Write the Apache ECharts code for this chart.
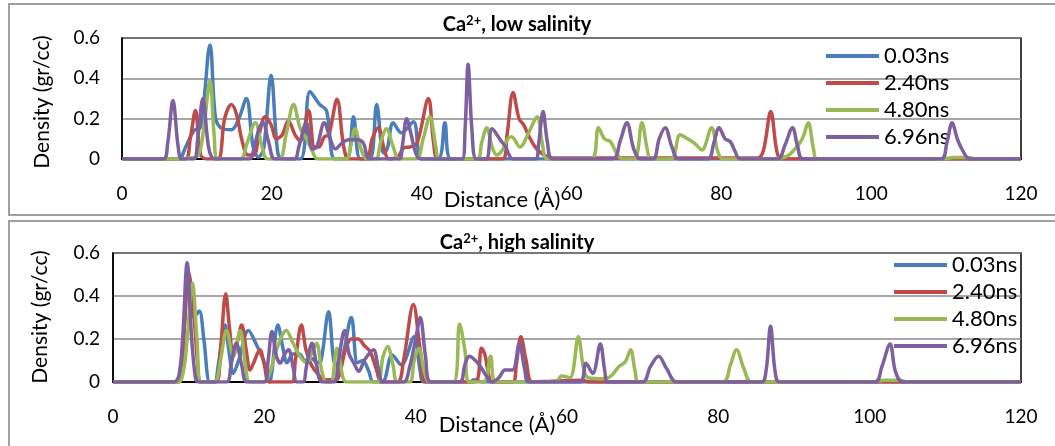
<!DOCTYPE html>
<html>
<head>
<meta charset="utf-8">
<script src="https://cdn.jsdelivr.net/npm/echarts@6/dist/echarts.min.js"></script>
<style>
  html, body { margin: 0; padding: 0; background: #fff; }
  #chart { width: 1055px; height: 446px; }
</style>
</head>
<body>
<div id="chart"></div>
<script>
// Ca2+ density profiles along the pore, four simulation times, two salinities
const seriesNames = ['0.03ns', '2.40ns', '4.80ns', '6.96ns'];
const xTicks = [0, 20, 40, 60, 80, 100, 120];
const yTickLabels = ['0', '0.2', '0.4', '0.6'];
const panelTitles = ['low salinity', 'high salinity'];

// low salinity: [distance (Å), density (gr/cc)]
const lowBlue = [[0,0],[7.5,0],[8.5,0.06],[9.6,0.14],[10.5,0.16],[11.75,0.565],[12.5,0.2],[13.4,0.15],[14.6,0.145],[15.6,0.2],[16.6,0.30],[17.5,0.06],[18.2,0.01],[18.9,0.05],[19.9,0.415],[20.8,0.03],[21.5,0],[23.8,0],[25.1,0.335],[26.4,0.27],[27.3,0.24],[28.4,0],[30.0,0],[30.9,0.21],[31.8,0],[33.1,0],[34.0,0.27],[34.9,0.03],[35.4,0.05],[36.2,0.18],[37.3,0.13],[38.9,0.185],[40.0,0],[42.2,0],[43.1,0.18],[43.9,0],[56.5,0],[120,0]];
const lowRed = [[0,0],[8.4,0],[9.1,0.1],[9.8,0.24],[10.5,0.02],[11.3,0],[12.8,0],[13.7,0.2],[14.6,0.27],[15.3,0.22],[16.0,0.095],[16.8,0.02],[17.6,0.02],[18.3,0.12],[19.1,0.21],[19.9,0.17],[20.6,0.1],[21.4,0.12],[22.2,0.19],[23.1,0.12],[23.8,0.09],[24.9,0.24],[25.7,0.06],[26.3,0.06],[27.0,0.11],[27.6,0.12],[28.7,0.296],[29.6,0.06],[30.3,0],[32.6,0],[33.4,0.1],[34.2,0.155],[35.0,0.05],[35.6,0],[36.8,0.01],[37.6,0.055],[38.5,0.06],[39.4,0.08],[40.9,0.30],[41.6,0.08],[42.3,0],[50.8,0],[51.4,0.12],[52.2,0.33],[53.0,0.2],[53.6,0.17],[54.5,0.1],[55.6,0.04],[57.5,0.005],[84.8,0.005],[85.6,0.04],[86.6,0.235],[87.4,0.04],[88.0,0],[120,0]];
const lowGreen = [[0,0],[7.5,0],[9.0,0.005],[10.2,0.02],[10.9,0.15],[11.75,0.39],[12.3,0.12],[12.8,0],[15.8,0],[16.7,0.08],[17.8,0.18],[18.7,0.06],[19.4,0],[21.0,0],[21.9,0.12],[22.9,0.27],[23.8,0.15],[24.7,0.095],[25.4,0.04],[26.1,0],[29.9,0],[30.5,0.06],[31.1,0.15],[31.9,0.05],[32.7,0],[33.9,0],[34.5,0.08],[35.3,0.15],[36.2,0.06],[37.0,0],[39.3,0],[40.2,0.1],[41.1,0.21],[41.9,0.06],[42.4,0],[47.4,0],[48.0,0.08],[48.7,0.155],[49.4,0.06],[50.0,0.02],[50.7,0.04],[51.5,0.1],[52.0,0.11],[53.1,0.06],[54.4,0.14],[55.4,0.21],[56.1,0.08],[56.8,0],[62.6,0],[63.6,0.155],[64.4,0.1],[65.2,0.086],[66.0,0.03],[66.8,0],[68.4,0],[69.4,0.18],[70.1,0.05],[70.6,0],[73.3,0],[74.5,0.12],[75.5,0.1],[76.5,0.075],[77.4,0.045],[78.7,0.155],[79.5,0.04],[80.2,0],[86.0,0],[88.5,0.01],[89.6,0.04],[90.8,0.1],[91.6,0.18],[92.3,0.05],[92.8,0],[109.5,0],[111,0.008],[113,0.008],[114,0],[120,0]];
const lowPurple = [[0,0],[5.5,0],[6.1,0.08],[6.8,0.29],[7.5,0.06],[8.0,0],[9.6,0],[10.1,0.1],[10.8,0.30],[11.6,0.05],[12.4,0],[17.0,0],[17.6,0.05],[18.2,0.14],[18.8,0.18],[19.6,0.08],[20.4,0],[23.0,0],[23.6,0.06],[24.6,0.18],[25.4,0.05],[26.0,0.06],[27.0,0.18],[27.8,0.1],[28.5,0.05],[29.4,0.08],[30.2,0.095],[31.4,0.095],[32.2,0.08],[33.1,0],[37.0,0],[37.4,0.06],[38.0,0.2],[38.6,0.12],[39.2,0.03],[39.8,0],[45.4,0],[45.8,0.15],[46.2,0.47],[46.7,0.15],[47.3,0],[48.6,0],[49.4,0.15],[50.5,0.095],[51.2,0.06],[52.2,0],[55.2,0],[55.6,0.07],[56.2,0.235],[56.8,0.08],[57.5,0],[65.5,0],[66.5,0.09],[67.4,0.18],[68.3,0.05],[69.2,0],[70.9,0],[71.7,0.1],[72.5,0.155],[73.4,0.06],[74.3,0],[78.2,0],[79.0,0.08],[79.7,0.155],[80.5,0.1],[81.2,0.086],[81.8,0.04],[82.5,0],[87.5,0],[88.5,0.07],[89.5,0.155],[90.2,0.06],[90.9,0],[109.3,0],[110.1,0.08],[110.8,0.18],[111.5,0.1],[112.1,0.05],[113.2,0],[120,0]];

// high salinity: [distance (Å), density (gr/cc)]
const highBlue = [[0,0],[8.5,0],[9.2,0.15],[10.0,0.5],[10.7,0.3],[11.4,0.33],[12.0,0.2],[12.8,0],[13.4,0],[14.0,0.1],[14.8,0.265],[15.3,0.15],[15.9,0.04],[16.6,0.1],[17.9,0.24],[19.0,0.17],[19.9,0.1],[20.7,0],[21.0,0.05],[21.8,0.265],[22.5,0.15],[23.0,0.09],[23.8,0.13],[24.6,0.13],[25.4,0.1],[26.2,0.11],[27.0,0.09],[27.5,0.1],[28.5,0.327],[29.4,0.08],[30.2,0.1],[31.5,0.3],[32.3,0.09],[33.0,0.1],[33.8,0.05],[34.4,0],[35.6,0],[36.9,0.126],[38.1,0.08],[39.8,0.21],[40.6,0.05],[41.1,0],[47,0],[47.8,0.01],[48.8,0],[55,0],[120,0]];
const highRed = [[0,0],[8.7,0],[9.4,0.25],[10.0,0.51],[10.6,0.35],[11.2,0.08],[11.6,0],[13.6,0],[14.2,0.15],[14.9,0.41],[15.4,0.25],[15.9,0.12],[16.4,0.18],[17.0,0.265],[17.6,0.15],[18.1,0.056],[18.6,0.09],[19.4,0.15],[20.0,0.08],[20.7,0],[23.6,0],[24.1,0.1],[24.9,0.265],[25.5,0.15],[26.2,0.08],[27.0,0.04],[28.0,0.01],[29.5,0.01],[30.1,0.06],[30.8,0.16],[31.5,0.2],[32.4,0.2],[33.2,0.17],[34.0,0.14],[34.8,0.06],[35.5,0],[37.6,0],[38.4,0.1],[39.7,0.36],[40.6,0.15],[41.4,0],[47.8,0],[48.7,0.157],[49.2,0.12],[49.6,0.04],[50.1,0],[52.8,0],[53.3,0.08],[53.9,0.21],[54.6,0.1],[55.4,0],[58,0.004],[62,0.008],[63,0],[120,0]];
const highGreen = [[0,0],[8.6,0],[9.3,0.05],[9.8,0.2],[10.5,0.46],[11.1,0.2],[11.7,0],[13.4,0],[14.2,0.1],[15.0,0.24],[15.9,0.12],[16.8,0.24],[17.5,0.08],[18.1,0],[19.9,0],[20.7,0.04],[21.6,0.15],[22.9,0.24],[23.8,0.18],[24.7,0.12],[25.6,0.09],[26.2,0.13],[26.9,0.18],[27.6,0.05],[28.2,0],[28.8,0],[29.6,0.157],[30.4,0.02],[30.9,0],[34.8,0],[35.7,0.12],[36.3,0.165],[37.0,0.08],[37.6,0],[39.2,0],[39.8,0.1],[40.4,0.157],[41.2,0.04],[41.8,0],[45.0,0],[45.8,0.27],[46.5,0.15],[47.1,0],[49.0,0],[49.9,0.12],[50.6,0],[58.5,0],[59.3,0.028],[60.4,0.02],[61.5,0.21],[62.2,0.06],[62.8,0.02],[65.0,0.015],[65.9,0.03],[66.8,0.07],[67.7,0.094],[68.4,0.15],[69.0,0.05],[69.5,0],[80.6,0],[81.6,0.08],[82.4,0.15],[83.4,0.06],[84.4,0],[100,0],[102,0.008],[104,0.008],[105,0],[120,0]];
const highPurple = [[0,0],[8.0,0],[8.7,0.03],[9.2,0.2],[9.8,0.555],[10.4,0.2],[10.9,0.02],[11.3,0],[15.0,0],[15.6,0.08],[16.3,0.18],[17.0,0.08],[17.7,0],[20.0,0],[20.5,0.1],[21.0,0.235],[21.6,0.12],[22.1,0.088],[22.7,0.13],[23.2,0.15],[23.8,0.07],[24.3,0],[25.1,0],[25.6,0.08],[26.3,0.18],[26.9,0.08],[27.6,0],[29.2,0],[29.8,0.1],[30.6,0.24],[31.2,0.13],[31.8,0.09],[32.5,0.05],[33.2,0.1],[34.4,0.15],[35.1,0.06],[35.7,0],[38.4,0],[39.2,0.07],[40.0,0.2],[40.6,0.3],[41.3,0.12],[42.0,0],[45.8,0],[46.5,0.08],[47.1,0.12],[48.4,0.08],[49.3,0.03],[50.0,0],[51.0,0.02],[51.8,0.056],[52.8,0.056],[53.7,0.18],[54.4,0.06],[55.0,0],[61.7,0],[62.5,0.087],[63.4,0.04],[64.4,0.177],[65.0,0.05],[65.4,0],[70.0,0],[71.0,0.07],[72.1,0.12],[73.2,0.06],[74.5,0],[85.7,0],[86.3,0.05],[86.9,0.26],[87.5,0.05],[88.1,0],[100.7,0],[101.6,0.07],[102.7,0.177],[103.4,0.05],[104.4,0],[120,0]];

const colors = ['#4A7EBB', '#BE4B48', '#98B954', '#7D60A0'];
const FONT = 'Lato, "Liberation Sans", sans-serif';
const panels = [
  { grid: { left: 122, top: 38, width: 899, height: 121 }, data: [lowBlue, lowRed, lowGreen, lowPurple],
    box: [9, 4, 1060, 211], titleAt: [517, 25], xNameAt: [502, 200], yNameAt: [42, 102], yLabelMargin: 22,
    legend: { left: 821, top: 40 } },
  { grid: { left: 113, top: 253, width: 908, height: 129 }, data: [highBlue, highRed, highGreen, highPurple],
    box: [9, 221, 1060, 240], titleAt: [517, 243], xNameAt: [497, 425], yNameAt: [40, 317], yLabelMargin: 13,
    legend: { left: 889, top: 249 } }
];

const chart = echarts.init(document.getElementById('chart'), null, { renderer: 'canvas' });

const option = {
  animation: false,
  backgroundColor: '#fff',
  textStyle: { fontFamily: FONT },
  grid: panels.map(p => Object.assign({ show: true, borderColor: '#000', borderWidth: 1.5, containLabel: false }, p.grid)),
  xAxis: panels.map((p, i) => ({
    type: 'value', gridIndex: i, min: xTicks[0], max: xTicks[xTicks.length - 1], interval: xTicks[1] - xTicks[0],
    axisLine: { onZero: true, lineStyle: { color: '#000', width: 2 } },
    axisTick: { show: false },
    splitLine: { show: false },
    axisLabel: { margin: 25, color: '#000', fontSize: 19, fontFamily: FONT }
  })),
  yAxis: panels.map((p, i) => ({
    type: 'value', gridIndex: i, min: 0, max: 0.6, interval: 0.2,
    axisLine: { show: true, lineStyle: { color: '#000', width: 1.5 } },
    axisTick: { show: false },
    splitLine: { show: true, lineStyle: { color: '#8a8a8a', width: 1.5 } },
    axisLabel: { margin: p.yLabelMargin, color: '#000', fontSize: 19, fontFamily: FONT,
      formatter: v => yTickLabels[Math.round(v / 0.2)] }
  })),
  legend: panels.map(p => ({
    orient: 'vertical', left: p.legend.left, top: p.legend.top,
    data: seriesNames, icon: 'rect', itemWidth: 53, itemHeight: 4, itemGap: 5,
    selectedMode: false,
    textStyle: { color: '#000', fontSize: 22, fontFamily: FONT }
  })),
  series: [],
  graphic: []
};

panels.forEach((p, i) => {
  p.data.forEach((d, k) => {
    option.series.push({
      name: seriesNames[k], type: 'line', xAxisIndex: i, yAxisIndex: i,
      data: d, smooth: 0.35, symbol: 'none', showSymbol: false,
      color: colors[k], lineStyle: { color: colors[k], width: 3.5 },
      z: 2 + k
    });
  });
  // panel frame
  option.graphic.push({
    type: 'rect', silent: true, z: 0,
    shape: { x: p.box[0], y: p.box[1], width: p.box[2], height: p.box[3] },
    style: { fill: 'none', stroke: '#a0a0a0', lineWidth: 2 }
  });
  // panel title with superscript charge
  option.graphic.push({
    type: 'text', silent: true, x: p.titleAt[0], y: p.titleAt[1],
    style: {
      text: '{b|Ca}{s|2+}{b|, ' + panelTitles[i] + '}',
      align: 'center', verticalAlign: 'middle',
      rich: {
        b: { fontFamily: FONT, fontWeight: 'bold', fontSize: 20, fill: '#000', lineHeight: 21 },
        s: { fontFamily: FONT, fontWeight: 'bold', fontSize: 13, fill: '#000', verticalAlign: 'top', lineHeight: 13 }
      }
    }
  });
  option.graphic.push({
    type: 'text', silent: true, x: p.xNameAt[0], y: p.xNameAt[1],
    style: { text: 'Distance (Å)', font: '22px ' + FONT, fill: '#000', align: 'center', verticalAlign: 'middle' }
  });
  option.graphic.push({
    type: 'text', silent: true, x: p.yNameAt[0], y: p.yNameAt[1], rotation: Math.PI / 2,
    style: { text: 'Density (gr/cc)', font: '21px ' + FONT, fill: '#000', align: 'center', verticalAlign: 'middle' }
  });
});

chart.setOption(option);
</script>
</body>
</html>
